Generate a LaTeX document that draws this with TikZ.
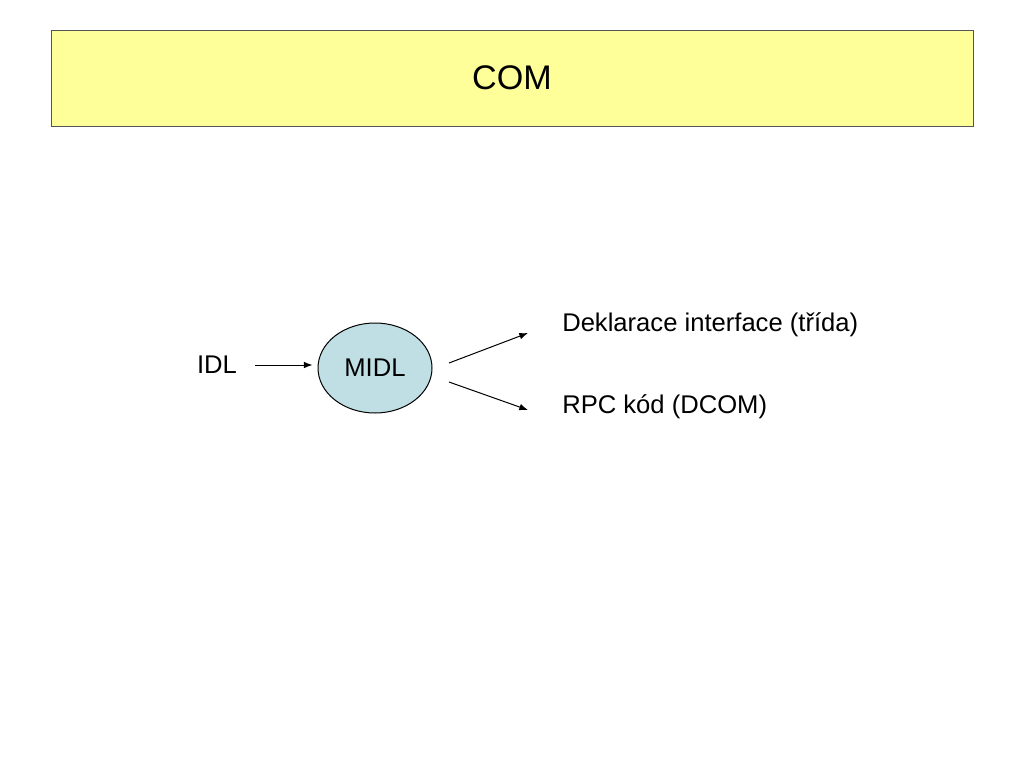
\documentclass[tikz,border=0pt]{standalone}
\usepackage{fontspec}
\setmainfont{Liberation Sans}
\usetikzlibrary{shapes.geometric,arrows.meta}

\definecolor{titleyellow}{RGB}{255,255,153}
\definecolor{midlblue}{RGB}{191,223,228}
\definecolor{boxgray}{RGB}{85,85,85}

\tikzset{
    txt/.style={inner sep=0pt, font=\fontsize{19.2}{23}\selectfont},
    arr/.style={-{Latex[length=6.5pt,width=5pt]}, line width=0.75pt},
}

\begin{document}
\begin{tikzpicture}[x=0.75pt,y=0.75pt,yscale=-1]
    %set diagram to 1024 x 768
    \useasboundingbox (0,0) rectangle (1024,768);
    
    %Shape: Rectangle [id:title]
    \draw [draw=boxgray, fill=titleyellow, line width=0.75pt] (51,30) rectangle (973,126);
    % Text Node
    \node (title) at (512,78) [inner sep=0pt, font=\fontsize{25.6}{30}\selectfont] {COM};
    
    %Shape: Ellipse [id:midl]
    \node (midl) at (375,368) [ellipse, draw, fill=midlblue, line width=0.75pt, minimum width=85.5pt, minimum height=67.5pt, txt] {MIDL};
    
    % Text Node
    \node (idl) at (217,365) [txt] {IDL};
    % Text Node
    \node (decl) at (562,325) [txt, anchor=west] {Deklarace interface (třída)};
    % Text Node
    \node (rpc) at (562,407) [txt, anchor=west] {RPC kód (DCOM)};
    
    \coordinate (declS) at (449,363);
    \coordinate (declE) at (528,333);
    \coordinate (rpcS) at (449,382);
    \coordinate (rpcE) at (528,410);
    
    %Straight Lines [id:arrows]
    \draw [arr, shorten <=13.5pt, shorten >=3.75pt] (idl) -- (idl -| midl.west);
    \draw [arr] (declS) -- (declE);
    \draw [arr] (rpcS) -- (rpcE);
    
\end{tikzpicture}
\end{document}
